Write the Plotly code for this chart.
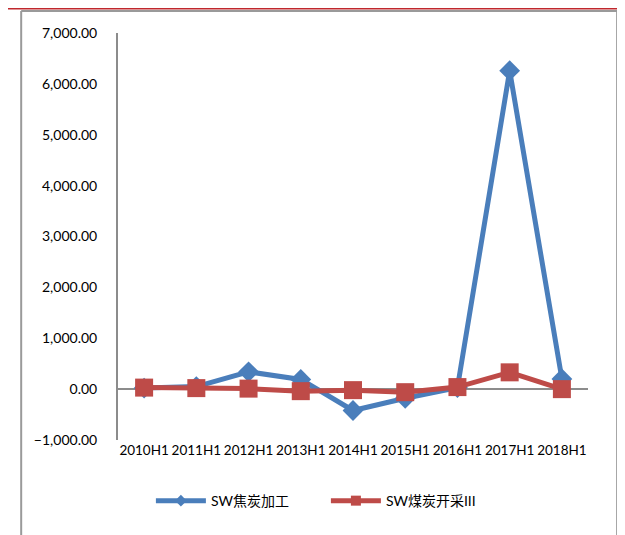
import plotly.graph_objects as go

# half-year periods on the category axis
periods = ["2010H1", "2011H1", "2012H1", "2013H1", "2014H1",
           "2015H1", "2016H1", "2017H1", "2018H1"]

# SW焦炭加工
coking = [20, 50, 340, 190, -420, -180, 30, 6260, 200]
# SW煤炭开采III
coal_mining = [30, 20, 10, -40, -20, -60, 40, 330, 0]

BLUE = "#4A7EBB"
RED = "#BE4B48"
FONT = "Lato, 'Noto Sans CJK SC', sans-serif"

series = [
    ("SW焦炭加工", coking, BLUE, "diamond", 16, 9),
    ("SW煤炭开采III", coal_mining, RED, "square", 18, 10),
]

fig = go.Figure()
for name, values, color, symbol, size, legend_size in series:
    fig.add_trace(go.Scatter(
        x=periods, y=values, name=name, mode="lines+markers",
        line=dict(color=color, width=5),
        marker=dict(symbol=symbol, size=size, color=color),
        showlegend=False,
    ))
    # legend-only entry so the key uses the small Excel-style marker
    fig.add_trace(go.Scatter(
        x=[None], y=[None], name=name, mode="lines+markers",
        line=dict(color=color, width=5),
        marker=dict(symbol=symbol, size=legend_size, color=color),
    ))

# outer chart frame (Excel-style) drawn in paper coords
# page body has an 8px margin, so the figure is 617x527 with plot 470x407
frame = "#9A9A9A"
fx0, fx1, fytop = -0.206, 1.062, 1.054
fig.add_shape(type="line", xref="paper", yref="paper", x0=fx0, x1=fx0,
              y0=fytop, y1=-0.25, line=dict(color=frame, width=2))
fig.add_shape(type="line", xref="paper", yref="paper", x0=fx1, x1=fx1,
              y0=fytop, y1=-0.25, line=dict(color=frame, width=2))
fig.add_shape(type="line", xref="paper", yref="paper", x0=fx0, x1=fx1 + 0.002,
              y0=fytop, y1=fytop, line=dict(color=frame, width=2))
fig.add_shape(type="line", xref="paper", yref="paper", x0=-0.24, x1=fx1 + 0.002,
              y0=fytop + 0.006, y1=fytop + 0.006,
              line=dict(color="#C0282D", width=2))

fig.update_layout(
    width=617, height=527,
    margin=dict(l=110, r=37, t=25, b=95),
    plot_bgcolor="#ffffff", paper_bgcolor="#ffffff",
    font=dict(family=FONT, size=14, color="#000000"),
    showlegend=True,
    legend=dict(orientation="h", x=0.07, xanchor="left", y=-0.15,
                yanchor="middle", font=dict(size=14), itemwidth=50,
                entrywidth=110, tracegroupgap=0),
)
fig.update_xaxes(range=[-0.5, 8.5], showgrid=False, showline=False,
                 zeroline=False, ticks="", tickangle=0, automargin=False,
                 tickfont=dict(size=13.5))
fig.update_yaxes(range=[-1000, 7000], dtick=1000, tickformat=",.2f",
                 showgrid=False, zeroline=True, zerolinecolor="#8C8C8C",
                 zerolinewidth=2, showline=True, linecolor="#8C8C8C",
                 linewidth=2, ticks="", ticklabelstandoff=16,
                 automargin=False)

fig.write_html("out.html")
